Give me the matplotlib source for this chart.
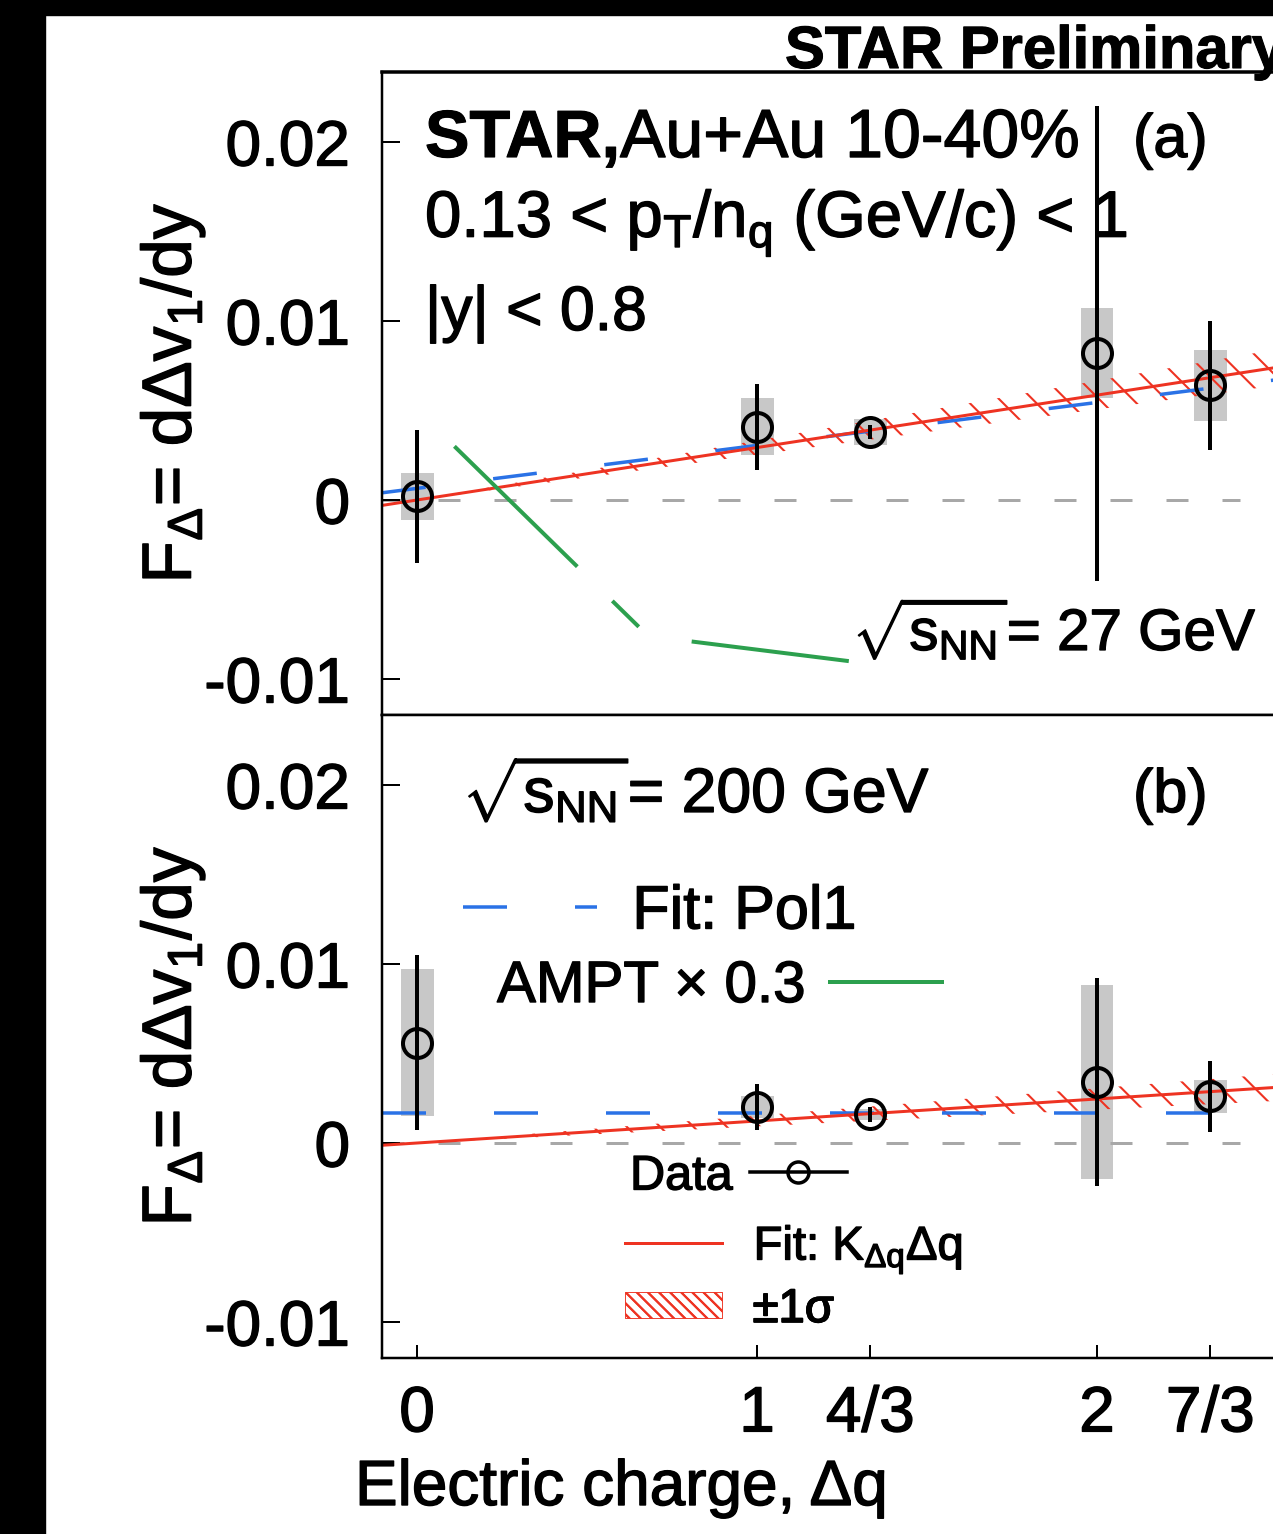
import matplotlib
matplotlib.use('Agg')
import matplotlib.pyplot as plt
import matplotlib.patches as mpatches
import matplotlib.patheffects as pe
from matplotlib.lines import Line2D
import numpy as np

plt.rcParams['font.family'] = ['Liberation Sans', 'DejaVu Sans']
plt.rcParams['mathtext.fontset'] = 'custom'
plt.rcParams['mathtext.rm'] = 'Liberation Sans'
plt.rcParams['mathtext.it'] = 'Liberation Sans:italic'
plt.rcParams['mathtext.bf'] = 'Liberation Sans:bold'
plt.rcParams['mathtext.default'] = 'regular'
plt.rcParams['axes.unicode_minus'] = False
plt.rcParams['lines.scale_dashes'] = False
plt.rcParams['hatch.linewidth'] = 1.5

# ---------------- data ----------------
charge = [0, 1, 4/3, 2, 7/3]
charge_labels = ['0', '1', '4/3', '2', '7/3']
ytick_vals = [-0.01, 0, 0.01, 0.02]
ytick_labels = ['-0.01', '0', '0.01', '0.02']

# 27 GeV (panel a)
f27 = [0.0002, 0.0041, 0.0038, 0.0082, 0.0064]
stat27_lo = [0.0037, 0.0024, 0.0004, 0.0127, 0.0036]
stat27_hi = [0.0037, 0.0024, 0.0004, 0.0138, 0.0036]
sys27 = [0.0013, 0.0016, 0.0007, 0.0025, 0.0020]
k27, k27_err = 0.00293, 0.0004
pol1_27 = [0.00065, 0.0024]          # intercept, slope
ampt_x = [0.11, 0.68, 1.27]
ampt_y = [0.0030, -0.0076, -0.0090]

# 200 GeV (panel b)
f200 = [0.0056, 0.0020, 0.0016, 0.0034, 0.0026]
stat200_lo = [0.0049, 0.0013, 0.0004, 0.0058, 0.0020]
stat200_hi = [0.0049, 0.0013, 0.0004, 0.0058, 0.0020]
sys200 = [0.0041, 0.0006, 0.0003, 0.0054, 0.0009]
k200, k200_err = 0.00123, 0.0003
pol1_200 = [0.0017, 0.0]

# ---------------- style ----------------
W, H = 1273, 1534
PX = 72.0 / 100.0          # points per pixel at dpi 100
RED = '#ee3322'
BLUE = '#2a72e6'
GREEN = '#2ca04e'
GRAY = '#a8a8a8'
SYS = '#c8c8c8'
XLIM = (-0.103, 2.6)
YLIM = (-0.01201, 0.02391)
STROKE = [pe.withStroke(linewidth=1.0, foreground='black')]
STROKE_B = [pe.withStroke(linewidth=0.8, foreground='black')]

fig = plt.figure(figsize=(W / 100, H / 100), dpi=100)
fig.patches.append(mpatches.Rectangle((0, 0), 45 / W, 1, transform=fig.transFigure,
                                      color='black', zorder=0))
fig.patches.append(mpatches.Rectangle((0, 1 - 15 / H), 1, 15 / H, transform=fig.transFigure,
                                      color='black', zorder=0))

axw = 919 / W
axh = 643 / H
ax1 = fig.add_axes([382 / W, 1 - 715 / H, axw, axh])
ax2 = fig.add_axes([382 / W, 1 - 1358 / H, axw, axh])


def draw_panel(ax, y, slo, shi, sysv, k, kerr, pol1):
    ax.set_xlim(*XLIM)
    ax.set_ylim(*YLIM)
    # systematic boxes
    ax.bar(charge, [2 * s for s in sysv], bottom=[v - s for v, s in zip(y, sysv)],
           width=0.097, color=SYS, zorder=1, linewidth=0)
    # zero reference
    ax.axhline(0, xmax=0.934, color=GRAY, lw=3 * PX, dashes=(22 * PX, 34 * PX), zorder=1.5)
    xx = np.array(XLIM)
    # +-1 sigma band of proportional fit
    band = ax.fill_between(xx, (k - kerr) * xx, (k + kerr) * xx, facecolor='none',
                           edgecolor=RED, linewidth=0, hatch='\\', zorder=2)
    # proportional fit
    fit, = ax.plot(xx, k * xx, color=RED, lw=3 * PX, zorder=2.2)
    # pol1 fit
    pl, = ax.plot(xx, pol1[0] + pol1[1] * xx, color=BLUE, lw=3.5 * PX,
                  dashes=(44 * PX, 68 * PX), zorder=2.1)
    # data
    ax.errorbar(charge, y, yerr=[slo, shi], fmt='o', mfc='none', mec='black', ms=29 * PX,
                mew=4 * PX, ecolor='black', elinewidth=4 * PX, capsize=0, zorder=3)
    ax.set_yticks(ytick_vals)
    ax.set_yticklabels(ytick_labels)
    ax.set_xticks(charge)
    ax.tick_params(axis='y', direction='in', length=18 * PX, width=2 * PX,
                   labelsize=46, pad=23)
    for s in ax.spines.values():
        s.set_linewidth(2.5 * PX)
    return band, fit, pl


band27, fit27, pl27 = draw_panel(ax1, f27, stat27_lo, stat27_hi, sys27, k27, k27_err, pol1_27)
band200, fit200, pl200 = draw_panel(ax2, f200, stat200_lo, stat200_hi, sys200, k200,
                                    k200_err, pol1_200)

ampt_line, = ax1.plot(ampt_x, ampt_y, color=GREEN, lw=4 * PX,
                      dashes=(172 * PX, 49 * PX, 37 * PX, 57 * PX), zorder=2.3)

ax1.spines['top'].set_linewidth(3.5 * PX)
ax1.tick_params(axis='x', direction='out', length=13 * PX, width=2 * PX,
                labelbottom=False)
ax2.tick_params(axis='x', direction='in', length=13 * PX, width=2 * PX,
                labelsize=46, pad=19)
ax2.set_xticklabels(charge_labels)

for ax in (ax1, ax2):
    for t in ax.yaxis.get_major_ticks() + ax.xaxis.get_major_ticks():
        t.label1.set_path_effects(STROKE)


# ---------------- texts, panel a ----------------
def fxa(px):
    return (px - 382) / 919


def fy1(py):
    return (715 - py) / 643


def fy2(py):
    return (1358 - py) / 643


t1 = ax1.text(fxa(425), fy1(157), 'STAR,', weight='bold', fontsize=48,
              transform=ax1.transAxes, va='baseline', ha='left', zorder=2.5,
              path_effects=STROKE_B)
ax1.annotate('Au+Au 10-40%', xy=(1, 0), xycoords=t1, va='bottom', ha='left',
             fontsize=49, zorder=2.5, path_effects=STROKE)
ax1.text(fxa(1133), fy1(157), '(a)', fontsize=44, transform=ax1.transAxes,
         va='baseline', ha='left', path_effects=STROKE)
ax1.text(fxa(425), fy1(237), r'0.13 < p$_{T}$/n$_{q}$ (GeV/c) < 1', fontsize=47,
         transform=ax1.transAxes, va='baseline', ha='left', zorder=2.5,
         path_effects=STROKE)
ax1.text(fxa(425), fy1(330), '|y| < 0.8', fontsize=45, transform=ax1.transAxes,
         va='baseline', ha='left', path_effects=STROKE)
ax1.text(fxa(853), fy1(650), r'$\sqrt{s_{NN}}$= 27 GeV', fontsize=42,
         transform=ax1.transAxes, va='baseline', ha='left', path_effects=STROKE)

fig.text(785 / W, 1 - 68 / H, 'STAR Preliminary', weight='bold', fontsize=43,
         va='baseline', ha='left', path_effects=STROKE_B)

# ---------------- texts, panel b ----------------
ax2.text(fxa(463), fy2(812), r'$\sqrt{s_{NN}}$= 200 GeV', fontsize=45,
         transform=ax2.transAxes, va='baseline', ha='left', path_effects=STROKE)
ax2.text(fxa(1133), fy2(812), '(b)', fontsize=44, transform=ax2.transAxes,
         va='baseline', ha='left', path_effects=STROKE)


def add_leg(ax, handles, labels, xpx, ypx, fs, hl, htp, markerfirst=True, hh=0.7):
    leg = ax.legend(handles, labels, loc='center left',
                    bbox_to_anchor=(fxa(xpx), fy2(ypx)), bbox_transform=ax.transAxes,
                    frameon=False, fontsize=fs, handlelength=hl, handletextpad=htp,
                    borderpad=0, borderaxespad=0, markerfirst=markerfirst,
                    handleheight=hh)
    for t in leg.get_texts():
        t.set_path_effects(STROKE)
    ax.add_artist(leg)
    return leg


add_leg(ax2, [pl200], ['Fit: Pol1'], 463, 913, 44, 134 / 61, 35 / 61)
add_leg(ax2, [ampt_line], ['AMPT \u00d7 0.3'], 497, 987, 42, 115 / 58, 22 / 58,
        markerfirst=False)
data_handle = Line2D([], [], color='black', lw=3.5 * PX, marker='o', mfc='none',
                     mec='black', ms=21 * PX, mew=3.5 * PX)
add_leg(ax2, [data_handle], ['Data'], 630, 1177, 35, 98 / 49, 17 / 49,
        markerfirst=False)
add_leg(ax2, [fit200], [r'Fit: K$_{\Delta q}$$\Delta$q'], 625, 1250, 34, 97 / 47, 31 / 47)
band_handle = mpatches.Patch(facecolor='none', edgecolor=RED, hatch='\\\\\\', lw=0.5)
add_leg(ax2, [band_handle], ['\u00b11\u03c3'], 625, 1310, 34, 97 / 47, 30 / 47, hh=22 / 47)

# ---------------- axis labels ----------------
ylab = r'F$_{\Delta}$= d$\Delta$v$_{1}$/dy'
for yc in (393, 1036):
    fig.text(191 / W, 1 - yc / H, ylab, rotation=90, rotation_mode='anchor',
             ha='center', va='baseline', fontsize=50, path_effects=STROKE)
fig.text(355 / W, 1 - 1505 / H, 'Electric charge, \u0394q', fontsize=46,
         va='baseline', ha='left', path_effects=STROKE)

fig.savefig('out.png', dpi=100)
